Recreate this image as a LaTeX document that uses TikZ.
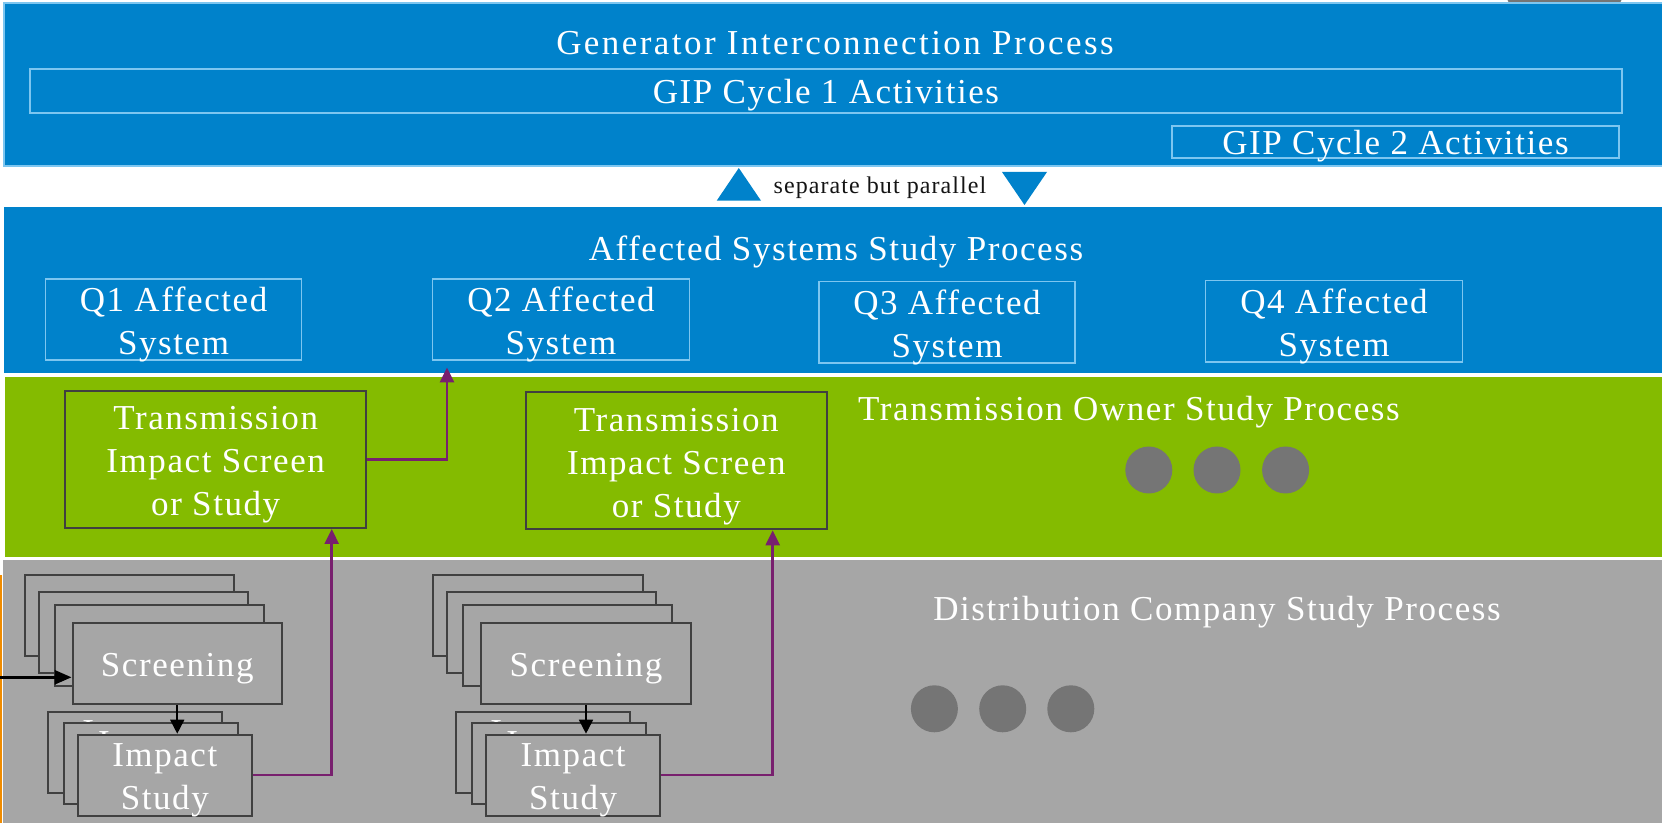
\documentclass[tikz,border=0pt]{standalone}
\usepackage{fontspec}
\setmainfont{Liberation Serif}[LetterSpace=4.5]
\usetikzlibrary{arrows.meta,calc}

\definecolor{procblue}{RGB}{0,130,203}
\definecolor{framelight}{RGB}{125,198,240}
\definecolor{tolime}{RGB}{132,187,0}
\definecolor{distgray}{RGB}{166,166,166}
\definecolor{dotgray}{RGB}{117,117,117}
\definecolor{edgegray}{RGB}{64,64,64}
\definecolor{linkpurple}{RGB}{120,32,110}
\definecolor{edgeorange}{RGB}{240,140,0}

\tikzset{
  rect/.style 2 args={minimum width=#1*0.5pt, minimum height=#2*0.5pt},
  lbl/.style={text=white, inner sep=0pt, align=center,
    font=\fontsize{17.5pt}{21.5pt}\selectfont},
  frame/.style={draw=framelight, line width=0.8pt, inner sep=0pt},
  tobox/.style={draw=edgegray, line width=1pt, fill=tolime, inner sep=0pt},
  dcbox/.style={draw=edgegray, line width=1pt, fill=distgray, inner sep=0pt},
  dot/.style={circle, fill=dotgray, inner sep=0pt, minimum size=23.5pt},
  flowarrow/.style={draw=black, line width=0.9pt, -{Triangle[length=7pt,width=7pt]}},
  feedarrow/.style={draw=black, line width=1.4pt, -{Triangle[length=8.5pt,width=7pt]}},
  linkarrow/.style={draw=linkpurple, line width=1.3pt, -{Triangle[length=7.5pt,width=7pt]}}
}

\begin{document}
\begin{tikzpicture}[x=0.5pt,y=-0.5pt]
\useasboundingbox (0,0) rectangle (1662,823);

% partly visible element at the top edge
\fill[dotgray, rounded corners=2pt] (1507,-20) rectangle (1622,2.7);

% ---------- Generator Interconnection Process ----------
\fill[procblue] (4,3.3) rectangle (1680,166);
\draw[framelight, line width=0.9pt] (1680,3.3) -- (4,3.3) -- (4,166) -- (1680,166);
\node[lbl, anchor=base] (gipt) at (835,55) {\addfontfeature{LetterSpace=7}Generator Interconnection Process};
\node[frame, rect={1592}{44}] (gip1) at (826,91) {};
\node[lbl, anchor=base] (gip1t) at ([yshift=-6.5pt]gip1.center) {GIP Cycle 1 Activities};
\node[frame, rect={447}{32}] (gip2) at (1395.5,142) {};
\node[lbl, anchor=base] (gip2t) at ([yshift=-6.5pt]gip2.center) {GIP Cycle 2 Activities};

% ---------- separate but parallel ----------
\fill[procblue] (716.7,200.7) -- (761,200.7) -- (738.8,168) -- cycle;
\fill[procblue] (1002,172) -- (1047,172) -- (1024.5,205) -- cycle;
\node[inner sep=0pt, anchor=base, text=black!92, font=\fontsize{12pt}{14pt}\selectfont] (sept) at (880,194) {separate but parallel};

% ---------- Affected Systems Study Process ----------
\fill[procblue] (4,206.7) rectangle (1680,373.3);
\node[lbl, anchor=base] (ast) at (836,260.7) {Affected Systems Study Process};
\node[frame, rect={256}{81}] (q1) at (173.6,319.7) {};
\node[frame, rect={257}{81}] (q2) at (561,319.7) {};
\node[frame, rect={256}{81.6}] (q3) at (947,322.5) {};
\node[frame, rect={257}{81.6}] (q4) at (1334,321.5) {};
\node[lbl] (q1t) at ([yshift=-2.4pt]q1.center) {Q1 Affected\\System};
\node[lbl] (q2t) at ([yshift=-2.4pt]q2.center) {Q2 Affected\\System};
\node[lbl] (q3t) at ([yshift=-2.4pt]q3.center) {Q3 Affected\\System};
\node[lbl] (q4t) at ([yshift=-2.4pt]q4.center) {Q4 Affected\\System};

% ---------- Transmission Owner Study Process ----------
\fill[tolime] (5,376.7) rectangle (1680,556.7);
\node[lbl, anchor=base west] (tot) at (857.8,420.7) {Transmission Owner Study Process};
\node[tobox, rect={300.7}{137.3}] (tis1) at (215.7,459.3) {};
\node[tobox, rect={300.7}{137.3}] (tis2) at (676.3,460.7) {};
\node[lbl] (tis1t) at ([yshift=-2.8pt]tis1.center) {Transmission\\Impact Screen\\or Study};
\node[lbl] (tis2t) at ([yshift=-2.8pt]tis2.center) {Transmission\\Impact Screen\\or Study};
\node[dot] (tdot1) at (1148.8,470) {};
\node[dot] (tdot2) at (1217,470) {};
\node[dot] (tdot3) at (1285.6,470) {};

% ---------- Distribution Company Study Process ----------
\fill[distgray] (3,560) rectangle (1680,840);
\fill[edgeorange] (-2,575) rectangle (2.3,840);
\node[lbl, anchor=base west] (dct) at (932.9,620.7) {Distribution Company Study Process};
\node[dot] (ddot1) at (934.4,708.8) {};
\node[dot] (ddot2) at (1002.7,708.8) {};
\node[dot] (ddot3) at (1070.8,708.8) {};

% first stack of screenings and impact studies
\node[dcbox, rect={209.4}{81}] (s1a) at (129.4,615.85) {};
\node[dcbox, rect={209.4}{81}] (s1b) at (143.3,632.8) {};
\node[dcbox, rect={209.4}{81}] (s1c) at (159.3,645.2) {};
\node[dcbox, rect={209.4}{81}] (s1f) at (177.25,663.35) {};
\node[lbl, anchor=base] (s1t) at ([yshift=-6.8pt]s1f.center) {Screening};
\node[dcbox, rect={174}{81}] (i1a) at (134.95,752.8) {};
\node[lbl] (i1at) at ([yshift=-2.5pt]i1a.center) {Impact\\Study};
\node[dcbox, rect={174}{81}] (i1b) at (150.6,763.35) {};
\node[lbl] (i1bt) at ([yshift=-2.5pt]i1b.center) {Impact\\Study};
\node[dcbox, rect={174}{81}] (i1f) at (164.8,775.2) {};
\node[lbl] (i1t) at ([yshift=-2.5pt]i1f.center) {Impact\\Study};

% second stack of screenings and impact studies
\node[dcbox, rect={209.4}{81}] (s2a) at (537.8,615.85) {};
\node[dcbox, rect={209.4}{81}] (s2b) at (551.7,632.8) {};
\node[dcbox, rect={209.4}{81}] (s2c) at (567.35,645.2) {};
\node[dcbox, rect={209.4}{81}] (s2f) at (586,663.35) {};
\node[lbl, anchor=base] (s2t) at ([yshift=-6.8pt]s2f.center) {Screening};
\node[dcbox, rect={174}{81}] (i2a) at (543,752.8) {};
\node[lbl] (i2at) at ([yshift=-2.5pt]i2a.center) {Impact\\Study};
\node[dcbox, rect={174}{81}] (i2b) at (559,763.35) {};
\node[lbl] (i2bt) at ([yshift=-2.5pt]i2b.center) {Impact\\Study};
\node[dcbox, rect={174}{81}] (i2f) at (573.2,775.2) {};
\node[lbl] (i2t) at ([yshift=-2.5pt]i2f.center) {Impact\\Study};

% ---------- connectors ----------
\coordinate (feed) at (0,677.3);
\draw[feedarrow] (feed) -- (feed -| s1f.west);
\draw[flowarrow] (s1f.south) -- (s1f.south |- i1f.north);
\draw[flowarrow] (s2f.south) -- (s2f.south |- i2f.north);

\path (tis1.south) ++(116,0) coordinate (up1);
\path (tis2.south) ++(96.4,0) coordinate (up2);
\path (q2.south) ++(-114,6.4) coordinate (q2in);
\draw[linkarrow] (i1f.east) -| (up1);
\draw[linkarrow] (i2f.east) -| (up2);
\draw[linkarrow] (tis1.east) -| (q2in);
\end{tikzpicture}
\end{document}
